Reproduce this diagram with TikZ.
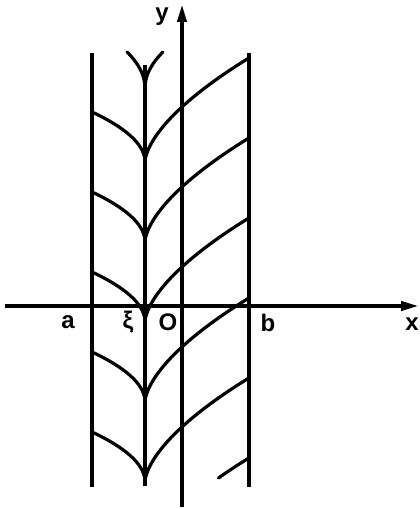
\documentclass[tikz,border=0pt]{standalone}
\usepackage{fontspec}
\setsansfont{Liberation Sans}
\usetikzlibrary{arrows.meta}

\begin{document}
\begin{tikzpicture}[
    x=0.5pt,
    y=0.5pt,
    font=\sffamily\bfseries\fontsize{12}{14}\selectfont,
    wall/.style={line width=1.8pt},
    axis/.style={line width=1.9pt, -{Triangle[length=9pt, width=4.5pt]}},
    curve/.style={line width=1.6pt, line cap=round},
    lbl/.style={inner sep=0pt}
]
\useasboundingbox (-182,-203) rectangle (237,306);

% ============================================================
% OSIE
% ============================================================
\coordinate (xstart) at (-177,0);
\coordinate (xend) at (237,0);
\coordinate (ystart) at (0,-201);
\coordinate (yend) at (0,302);

\draw[axis] (xstart) -- (xend);
\draw[axis] (ystart) -- (yend);

% ============================================================
% PROSTE x=a, x=xi, x=b
% ============================================================
\coordinate (atop) at (-90,253);
\coordinate (abot) at (-90,-181);
\coordinate (xitop) at (-37,241);
\coordinate (xibot) at (-37,-180);
\coordinate (btop) at (67,253);
\coordinate (bbot) at (67,-181);

\draw[wall] (atop) -- (abot);
\draw[wall] (xitop) -- (xibot);
\draw[wall] (btop) -- (bbot);

% ============================================================
% CHARAKTERYSTYKI: lewe gałęzie
% ============================================================
\draw[curve] plot[domain=0:50, samples=30, smooth] ({-37-\x*\x/47.2}, {144+\x});
\draw[curve] plot[domain=0:50, samples=30, smooth] ({-37-\x*\x/47.2}, {64+\x});
\draw[curve] plot[domain=0:50, samples=30, smooth] ({-37-\x*\x/47.2}, {-16+\x});
\draw[curve] plot[domain=0:50, samples=30, smooth] ({-37-\x*\x/47.2}, {-96+\x});
\draw[curve] plot[domain=0:50, samples=30, smooth] ({-37-\x*\x/47.2}, {-176+\x});

% ============================================================
% CHARAKTERYSTYKI: prawe gałęzie
% ============================================================
\draw[curve] plot[domain=0.01:104, samples=40, smooth] ({-37+exp(1.623*ln(\x/5.95))}, {144+\x});
\draw[curve] plot[domain=0.01:104, samples=40, smooth] ({-37+exp(1.623*ln(\x/5.95))}, {64+\x});
\draw[curve] plot[domain=0.01:104, samples=40, smooth] ({-37+exp(1.623*ln(\x/5.95))}, {-16+\x});
\draw[curve] plot[domain=0.01:104, samples=40, smooth] ({-37+exp(1.623*ln(\x/5.95))}, {-96+\x});
\draw[curve] plot[domain=0.01:104, samples=40, smooth] ({-37+exp(1.623*ln(\x/5.95))}, {-176+\x});
\draw[curve] plot[domain=84:104, samples=15, smooth] ({-37+exp(1.623*ln(\x/5.95))}, {-256+\x});

% ============================================================
% GROT NA PROSTEJ x=xi
% ============================================================
\draw[curve] plot[domain=0:36, samples=20, smooth] ({-37-\x*\x/72.3}, {218+\x});
\draw[curve] plot[domain=0:36, samples=20, smooth] ({-37+\x*\x/72.3}, {218+\x});

% ============================================================
% OPISY
% ============================================================
\node[lbl] (lbly) at (-20,289) {y};
\node[lbl] (lbla) at (-114,-16) {a};
\node[lbl] (lblxi) at (-54,-16) {ξ};
\node[lbl] (lblo) at (-14,-16) {O};
\node[lbl] (lblb) at (86,-17) {b};
\node[lbl] (lblx) at (230,-18) {x};

\end{tikzpicture}
\end{document}
